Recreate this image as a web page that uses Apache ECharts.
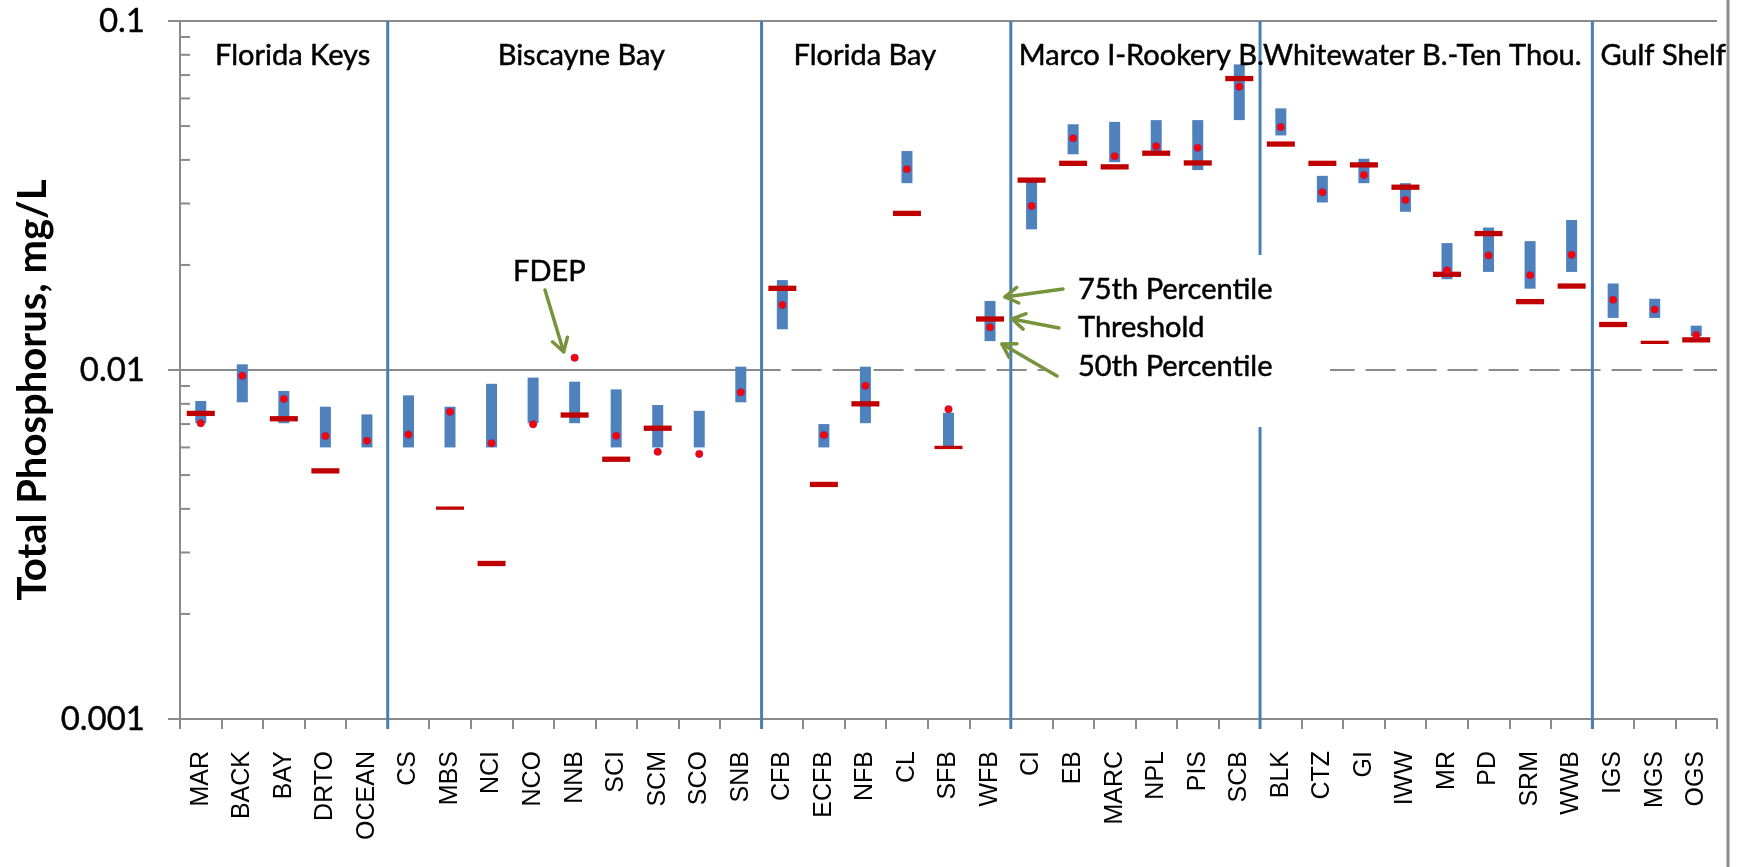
<!DOCTYPE html>
<html>
<head>
<meta charset="utf-8">
<script src="https://cdn.jsdelivr.net/npm/echarts@6/dist/echarts.min.js"></script>
<style>
  html, body { margin: 0; padding: 0; background: #ffffff; }
  #chart { width: 1741px; height: 867px; }
</style>
</head>
<body>
<div id="chart"></div>
<script>
// Sampling stations, grouped by region (left to right)
const categories = ['MAR', 'BACK', 'BAY', 'DRTO', 'OCEAN',
  'CS', 'MBS', 'NCI', 'NCO', 'NNB', 'SCI', 'SCM', 'SCO', 'SNB',
  'CFB', 'ECFB', 'NFB', 'CL', 'SFB', 'WFB',
  'CI', 'EB', 'MARC', 'NPL', 'PIS', 'SCB',
  'BLK', 'CTZ', 'GI', 'IWW', 'MR', 'PD', 'SRM', 'WWB',
  'IGS', 'MGS', 'OGS'];

const sectionNames = ['Florida Keys', 'Biscayne Bay', 'Florida Bay',
  'Marco I-Rookery B.', 'Whitewater B.-Ten Thou.', 'Gulf Shelf'];
const sectionSizes = [5, 9, 6, 6, 8, 3];

// Total phosphorus, mg/L
const p75 = [0.00815, 0.01038, 0.00871, 0.00785, 0.00746,
  0.00846, 0.00785, 0.00913, 0.00951, 0.00926, 0.0088, 0.00794, 0.00764, 0.01022,
  0.0181, 0.0070, 0.01022, 0.0424, 0.00754, 0.01577,
  0.0346, 0.0506, 0.0514, 0.052, 0.052, 0.0751,
  0.0562, 0.036, 0.0403, 0.0343, 0.0231, 0.0256, 0.0234, 0.0269,
  0.0177, 0.016, 0.0134];

const p50 = [0.00704, 0.00808, 0.00704, 0.006, 0.006,
  0.006, 0.006, 0.006, 0.00704, 0.00704, 0.006, 0.006, 0.006, 0.00808,
  0.01308, 0.006, 0.00704, 0.0343, 0.006, 0.0121,
  0.0253, 0.0415, 0.0394, 0.0415, 0.0374, 0.052,
  0.047, 0.0302, 0.0343, 0.0284, 0.0182, 0.0191, 0.0171, 0.0191,
  0.0141, 0.0141, 0.0125];

const threshold = [0.00751, null, 0.00725, 0.00514, null,
  null, 0.00402, 0.00279, null, 0.00743, 0.00555, 0.00681, null, null,
  0.01714, 0.0047, 0.008, 0.0281, 0.006, 0.014,
  0.035, 0.0391, 0.0382, 0.0418, 0.0392, 0.0684,
  0.0444, 0.0391, 0.0387, 0.0334, 0.0188, 0.0246, 0.0157, 0.0174,
  0.0135, 0.012, 0.0122];

const fdep = [0.00704, 0.00963, 0.00826, 0.00647, 0.00627,
  0.00653, 0.00759, 0.00617, 0.00699, 0.01084, 0.00648, 0.00583, 0.00575, 0.00863,
  0.01535, 0.00651, 0.00902, 0.0376, 0.00772, 0.01325,
  0.0295, 0.0461, 0.041, 0.0438, 0.0433, 0.0648,
  0.0497, 0.0323, 0.0362, 0.0307, 0.0193, 0.0213, 0.0187, 0.0214,
  0.0159, 0.0149, 0.0126];

const yTickLabels = ['0.001', '0.01', '0.1'];
const minorTickValues = [0.002, 0.003, 0.004, 0.005, 0.006, 0.007, 0.008, 0.009,
  0.02, 0.03, 0.04, 0.05, 0.06, 0.07, 0.08, 0.09];

// ---- styling ----
const AXIS_GRAY = '#8a8a8a';
const BAR_BLUE = '#4F81BD';
const LINE_BLUE = '#4A7EBB';
const THRESH_RED = '#C00000';
const ARROW_GREEN = '#77933C';
const LABEL_FONT = 'Lato, "Open Sans", sans-serif';
const thinThreshold = new Set(['MBS', 'SFB', 'MGS']);

const chart = echarts.init(document.getElementById('chart'), null, { renderer: 'canvas' });

chart.setOption({
  animation: false,
  backgroundColor: '#ffffff',
  grid: { left: 180, right: 24, top: 21, bottom: 148 },
  xAxis: {
    type: 'category',
    data: categories,
    boundaryGap: true,
    axisLine: { show: true, lineStyle: { color: AXIS_GRAY, width: 2 } },
    axisTick: { show: true, interval: 0, length: 10, lineStyle: { color: AXIS_GRAY, width: 2 } },
    axisLabel: {
      interval: 0, rotate: 90, margin: 32,
      fontFamily: '"Liberation Sans", Arial, sans-serif', fontSize: 25, color: '#000'
    },
    splitLine: { show: false }
  },
  yAxis: {
    type: 'log',
    logBase: 10,
    min: 0.001,
    max: 0.1,
    axisLine: { show: true, lineStyle: { color: AXIS_GRAY, width: 2 } },
    axisTick: { show: true, length: 12, lineStyle: { color: AXIS_GRAY, width: 2 } },
    axisLabel: {
      margin: 35, fontFamily: LABEL_FONT, fontSize: 33, color: '#000',
      textBorderColor: '#000', textBorderWidth: 0.4,
      formatter: v => yTickLabels[Math.round(Math.log10(v)) + 3]
    },
    splitLine: { show: false }
  },
  series: [
    {
      name: '50th-75th percentile',
      type: 'custom',
      z: 2,
      encode: { x: 0, y: [1, 2] },
      data: categories.map((c, i) => [i, p50[i], p75[i]]),
      renderItem: (params, api) => {
        const i = api.value(0);
        const top = api.coord([i, api.value(2)]);
        const bottom = api.coord([i, api.value(1)]);
        const w = 11;
        return {
          type: 'rect',
          shape: { x: top[0] - w / 2, y: top[1], width: w, height: bottom[1] - top[1] },
          style: { fill: BAR_BLUE }
        };
      }
    },
    {
      name: 'Threshold',
      type: 'scatter',
      z: 3,
      symbol: 'rect',
      itemStyle: { color: THRESH_RED, opacity: 1 },
      data: categories.map((c, i) => threshold[i] == null ? null : {
        value: [i, threshold[i]],
        symbolSize: thinThreshold.has(c) ? [28, 3.3] : [28, 5.3]
      }).filter(d => d)
    },
    {
      name: 'FDEP',
      type: 'scatter',
      z: 4,
      symbol: 'circle',
      symbolSize: 7.5,
      itemStyle: { color: '#FF0000', opacity: 1, borderColor: 'rgba(112,48,160,0.5)', borderWidth: 1 },
      data: categories.map((c, i) => [i, fdep[i]])
    }
  ]
});

// ---- decorations placed from the chart's own scales ----
const toPx = (i, v) => chart.convertToPixel({ gridIndex: 0 }, [i, v]);
const step = toPx(1, 0.01)[0] - toPx(0, 0.01)[0];
const boundaryX = k => toPx(0, 0.01)[0] + (k - 0.5) * step;
const xLeft = boundaryX(0);
const xRight = boundaryX(categories.length);
const yTop = toPx(0, 0.1)[1];
const yTen = toPx(0, 0.01)[1];
const yBottom = toPx(0, 0.001)[1];

const g = [];
const textStyle = (text, size, extra) => Object.assign({
  text: text, fontFamily: LABEL_FONT, fontSize: size, fill: '#000',
  stroke: '#000', lineWidth: 0.5, align: 'left', verticalAlign: 'middle'
}, extra || {});

// horizontal grid lines: 0.1 solid, 0.01 solid over the east-coast regions then dashed
const sectionStart = [];
let acc = 0;
sectionSizes.forEach(n => { sectionStart.push(acc); acc += n; });
const bFloridaBay = boundaryX(sectionStart[2]);
g.push({ type: 'line', z: 1, shape: { x1: xLeft, y1: yTop, x2: xRight, y2: yTop },
  style: { stroke: AXIS_GRAY, lineWidth: 2 } });
g.push({ type: 'line', z: 1, shape: { x1: xLeft, y1: yTen, x2: bFloridaBay, y2: yTen },
  style: { stroke: AXIS_GRAY, lineWidth: 2 } });
g.push({ type: 'line', z: 1, shape: { x1: bFloridaBay, y1: yTen, x2: xRight, y2: yTen },
  style: { stroke: AXIS_GRAY, lineWidth: 2, lineDash: [30, 11], lineDashOffset: 11 } });

// minor ticks inside the y axis
minorTickValues.forEach(v => {
  const y = toPx(0, v)[1];
  g.push({ type: 'line', z: 1, shape: { x1: xLeft, y1: y, x2: xLeft + 10, y2: y },
    style: { stroke: AXIS_GRAY, lineWidth: 2 } });
});

// region separators
sectionStart.slice(1).forEach(k => {
  const x = boundaryX(k);
  g.push({ type: 'line', z: 1, shape: { x1: x, y1: yTop, x2: x, y2: yBottom + 10 },
    style: { stroke: LINE_BLUE, lineWidth: 3 } });
});

// region names
const nameOffsets = [35, 110, 32, 8, 3, 8];
sectionNames.forEach((name, s) => {
  g.push({ type: 'text', z: 10, x: boundaryX(sectionStart[s]) + nameOffsets[s], y: 56,
    style: textStyle(name, 29) });
});

// legend box for the WFB markers
g.push({ type: 'rect', z: 6, shape: { x: 1045, y: 255, width: 285, height: 172 },
  style: { fill: '#ffffff' } });
const legendTexts = [['75th Percentile', 290], ['Threshold', 328], ['50th Percentile', 367]];
legendTexts.forEach(([t, y]) => {
  g.push({ type: 'text', z: 10, x: 1078, y: y, style: textStyle(t, 29) });
});
g.push({ type: 'text', z: 10, x: 513, y: 272, style: textStyle('FDEP', 29) });

function arrow(tail, tip) {
  const a = Math.atan2(tip[1] - tail[1], tip[0] - tail[0]);
  const L = 15, spread = 0.55;
  const p1 = [tip[0] - L * Math.cos(a - spread), tip[1] - L * Math.sin(a - spread)];
  const p2 = [tip[0] - L * Math.cos(a + spread), tip[1] - L * Math.sin(a + spread)];
  const st = { stroke: ARROW_GREEN, lineWidth: 3.5, lineCap: 'round', lineJoin: 'round', fill: null };
  g.push({ type: 'line', z: 11, shape: { x1: tail[0], y1: tail[1], x2: tip[0], y2: tip[1] }, style: st });
  g.push({ type: 'polyline', z: 11, shape: { points: [p1, tip, p2] }, style: st });
}
const iWFB = categories.indexOf('WFB');
const wTop = toPx(iWFB, p75[iWFB]);
const wThr = toPx(iWFB, threshold[iWFB]);
const wBot = toPx(iWFB, p50[iWFB]);
arrow([1063, 289], [wTop[0] + 15, wTop[1] - 4]);
arrow([1059, 328], [wThr[0] + 22, wThr[1]]);
arrow([1057, 376], [wBot[0] + 12, wBot[1] + 3]);
const iNNB = categories.indexOf('NNB');
const nDot = toPx(iNNB, fdep[iNNB]);
arrow([545, 290], [nDot[0] - 11, nDot[1] - 6]);

// y axis title
g.push({ type: 'text', z: 10, x: 33, y: 390, rotation: Math.PI / 2,
  style: { text: 'Total Phosphorus, mg/L', fontFamily: LABEL_FONT, fontWeight: 'bold',
    fontSize: 40, fill: '#000', align: 'center', verticalAlign: 'middle' } });

// chart frame edge on the right
g.push({ type: 'line', z: 1, shape: { x1: 1728, y1: 0, x2: 1728, y2: 867 },
  style: { stroke: '#8c8c8c', lineWidth: 3 } });

chart.setOption({ graphic: { elements: g } });
</script>
</body>
</html>
